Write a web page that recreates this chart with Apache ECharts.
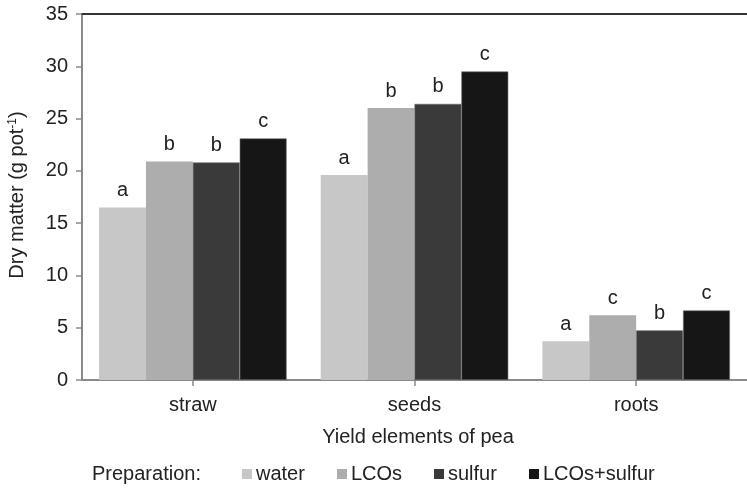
<!DOCTYPE html>
<html>
<head>
<meta charset="utf-8">
<script src="https://cdn.jsdelivr.net/npm/echarts@6/dist/echarts.min.js"></script>
<style>
html,body{margin:0;padding:0;background:#fff;}
#c{width:747px;height:489px;}
</style>
</head>
<body>
<div id="c"></div>
<script>
var categories = ['straw', 'seeds', 'roots'];
var seriesNames = ['water', 'LCOs', 'sulfur', 'LCOs+sulfur'];
var water = [16.5, 19.6, 3.7];
var lcos = [20.9, 26.0, 6.2];
var sulfur = [20.8, 26.4, 4.75];
var lcosSulfur = [23.1, 29.5, 6.65];
var lettersWater = ['a', 'a', 'a'];
var lettersLcos = ['b', 'b', 'c'];
var lettersSulfur = ['b', 'b', 'b'];
var lettersLcosSulfur = ['c', 'c', 'c'];
var yTicks = [0, 5, 10, 15, 20, 25, 30, 35];

var colors = ['#c6c7c6', '#adadad', '#3a3a3a', '#161616'];
var values = [water, lcos, sulfur, lcosSulfur];
var letters = [lettersWater, lettersLcos, lettersSulfur, lettersLcosSulfur];
var FONT = 'Liberation Sans, Arial, sans-serif';
var FS = 20;

var chart = echarts.init(document.getElementById('c'), null, {renderer: 'canvas'});

var series = seriesNames.map(function (name, i) {
  return {
    name: name,
    type: 'bar',
    data: values[i],
    barGap: '0%',
    barCategoryGap: '15.4%',
    itemStyle: {color: colors[i], borderColor: i >= 2 ? '#6a6a6a' : colors[i], borderWidth: i >= 2 ? 0.6 : 0},
    label: {
      show: true,
      position: 'top',
      distance: 7,
      fontFamily: FONT,
      fontSize: FS,
      color: '#222',
      formatter: function (p) { return letters[i][p.dataIndex]; }
    },
    emphasis: {disabled: true},
    animation: false
  };
});

var legendLefts = [242, 337, 434, 529];
var legends = seriesNames.map(function (name, i) {
  return {
    data: [name],
    left: legendLefts[i],
    top: 464,
    itemWidth: 10,
    itemHeight: 10,
    itemGap: 0,
    icon: 'rect',
    itemStyle: {borderWidth: 0},
    textStyle: {fontFamily: FONT, fontSize: FS, color: '#222', padding: [0, 0, 0, -1]},
    padding: 0,
    selectedMode: false
  };
});

chart.setOption({
  backgroundColor: '#fff',
  animation: false,
  grid: {left: 82, right: -8, top: 14, bottom: 109, containLabel: false},
  legend: legends,
  xAxis: [{
    type: 'category',
    data: categories,
    axisLine: {lineStyle: {color: '#8a8a8a', width: 2}},
    axisTick: {show: true, alignWithLabel: true, length: 6, lineStyle: {color: '#8a8a8a', width: 1.5}},
    axisLabel: {fontFamily: FONT, fontSize: FS, color: '#222', margin: 15}
  }, {
    type: 'category',
    position: 'top',
    data: categories,
    axisLine: {show: true, lineStyle: {color: '#333', width: 2}},
    axisTick: {show: false},
    axisLabel: {show: false}
  }],
  yAxis: {
    type: 'value',
    min: 0,
    max: 35,
    interval: 5,
    axisLine: {show: true, lineStyle: {color: '#8a8a8a', width: 2}},
    axisTick: {show: true, length: 6, lineStyle: {color: '#8a8a8a', width: 1.5}},
    splitLine: {show: false},
    axisLabel: {
      fontFamily: FONT, fontSize: FS, color: '#222', margin: 14,
      formatter: function (v) { return yTicks.indexOf(v) >= 0 ? String(v) : ''; }
    }
  },
  graphic: [{
    type: 'text',
    left: 92,
    top: 464,
    style: {text: 'Preparation:', font: FS + 'px ' + FONT, fill: '#222'}
  }, {
    type: 'text',
    x: 418,
    y: 437,
    style: {text: 'Yield elements of pea', font: FS + 'px ' + FONT, fill: '#222', align: 'center', verticalAlign: 'middle'}
  }, {
    type: 'text',
    x: 17,
    y: 195,
    rotation: Math.PI / 2,
    style: {
      text: '{a|Dry matter (g pot}{s|-1}{a|)}',
      align: 'center',
      verticalAlign: 'middle',
      rich: {
        a: {font: FS + 'px ' + FONT, fill: '#222'},
        s: {font: '12px ' + FONT, fill: '#222', verticalAlign: 'top', padding: [0, 0, 9, 0]}
      }
    }
  }],
  series: series
});
</script>
</body>
</html>
